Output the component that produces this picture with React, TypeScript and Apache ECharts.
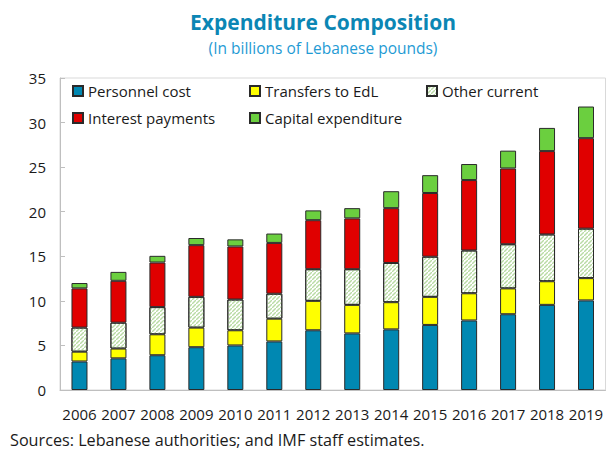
import React, { useEffect, useRef } from 'react';
import * as echarts from 'echarts';

const years = ['2006', '2007', '2008', '2009', '2010', '2011', '2012', '2013', '2014', '2015', '2016', '2017', '2018', '2019'];
const personnelCost = [3.2, 3.55, 3.9, 4.8, 5.0, 5.45, 6.7, 6.35, 6.8, 7.3, 7.8, 8.5, 9.55, 10.05];
const transfersToEdL = [1.1, 1.1, 2.35, 2.2, 1.7, 2.55, 3.3, 3.2, 3.05, 3.15, 3.05, 2.9, 2.65, 2.5];
const otherCurrent = [2.7, 2.9, 3.05, 3.45, 3.45, 2.8, 3.55, 4.0, 4.4, 4.5, 4.8, 4.95, 5.25, 5.55];
const interestPayments = [4.4, 4.7, 5.0, 5.8, 5.95, 5.7, 5.5, 5.7, 6.15, 7.15, 7.9, 8.5, 9.35, 10.15];
const capitalExpenditure = [0.6, 1.0, 0.75, 0.8, 0.8, 1.05, 1.1, 1.15, 1.9, 2.0, 1.8, 2.0, 2.6, 3.55];

const FONT = '"Open Sans", "Noto Sans", sans-serif';
const TEXT = '#1a1a1a';
const HATCH = 'path://M0,10 L0,7.5 L7.5,0 L10,0 L10,2.5 L2.5,10 Z';

export default function App() {
  const ref = useRef<HTMLDivElement>(null);
  useEffect(() => {
    if (!ref.current) return;
    const chart = echarts.init(ref.current, undefined, { renderer: 'svg' });
    const border = { borderColor: '#2a2a2a', borderWidth: 1 };
    const mk = (name: string, data: number[], color: string, extra: any = {}) => ({
      name,
      type: 'bar',
      stack: 'total',
      barWidth: 16,
      data,
      itemStyle: { color, ...border, ...extra },
      emphasis: { disabled: true },
    });
    const legendBase = {
      orient: 'vertical',
      top: 83,
      padding: 0,
      icon: 'rect',
      itemWidth: 10,
      itemHeight: 10,
      itemGap: 11,
      selectedMode: false,
      textStyle: { fontFamily: FONT, fontSize: 15, color: TEXT, lineHeight: 16 },
    };
    chart.setOption({
      animation: false,
      textStyle: { fontFamily: FONT },
      graphic: [
        {
          type: 'text',
          x: 323,
          y: 22,
          style: {
            text: 'Expenditure Composition',
            fontFamily: FONT,
            fontWeight: 'bold',
            fontSize: 21,
            fill: '#0b86b4',
            align: 'center',
            verticalAlign: 'middle',
          },
        },
        {
          type: 'text',
          x: 323,
          y: 48,
          style: {
            text: '(In billions of Lebanese pounds)',
            fontFamily: FONT,
            fontSize: 15.5,
            fill: '#1f9bd4',
            align: 'center',
            verticalAlign: 'middle',
          },
        },
        {
          type: 'text',
          x: 10,
          y: 440,
          style: {
            text: 'Sources: Lebanese authorities; and IMF staff estimates.',
            fontFamily: FONT,
            fontSize: 16.2,
            fill: TEXT,
            align: 'left',
            verticalAlign: 'middle',
          },
        },
      ],
      legend: [
        { ...legendBase, left: 72, data: ['Personnel cost', 'Interest payments'] },
        { ...legendBase, left: 249, data: ['Transfers to EdL', 'Capital expenditure'] },
        { ...legendBase, left: 426, data: ['Other current'] },
      ],
      grid: {
        left: 60,
        right: -4,
        top: 78,
        bottom: 62,
        show: true,
        borderColor: '#d9d9d9',
        borderWidth: 1,
      },
      xAxis: {
        type: 'category',
        data: years,
        axisLine: { lineStyle: { color: '#bfbfbf', width: 1 } },
        axisTick: { inside: true, length: 5, lineStyle: { color: '#bfbfbf' } },
        axisLabel: { color: TEXT, fontSize: 15, fontFamily: FONT, margin: 16, interval: 0 },
      },
      yAxis: {
        type: 'value',
        min: 0,
        max: 35,
        interval: 5,
        splitLine: { show: false },
        axisLine: { show: true, lineStyle: { color: '#bfbfbf', width: 1 } },
        axisTick: { show: true, inside: true, length: 5, lineStyle: { color: '#bfbfbf' } },
        axisLabel: { color: TEXT, fontSize: 15, fontFamily: FONT, margin: 14 },
      },
      series: [
        mk('Personnel cost', personnelCost, '#0088b2'),
        mk('Transfers to EdL', transfersToEdL, '#ffff00'),
        mk('Other current', otherCurrent, '#ffffff', {
          decal: {
            symbol: HATCH,
            symbolSize: 1,
            symbolKeepAspect: false,
            color: '#b9dba5',
            dashArrayX: [4, 0],
            dashArrayY: [4, 0],
            rotation: 0,
          },
        }),
        mk('Interest payments', interestPayments, '#e00000'),
        mk('Capital expenditure', capitalExpenditure, '#6bcf3f'),
      ],
    });
    return () => chart.dispose();
  }, []);
  return (
    <div
      ref={ref}
      style={{ position: 'absolute', left: 0, top: 0, width: 606, height: 452, background: '#fff' }}
    />
  );
}
